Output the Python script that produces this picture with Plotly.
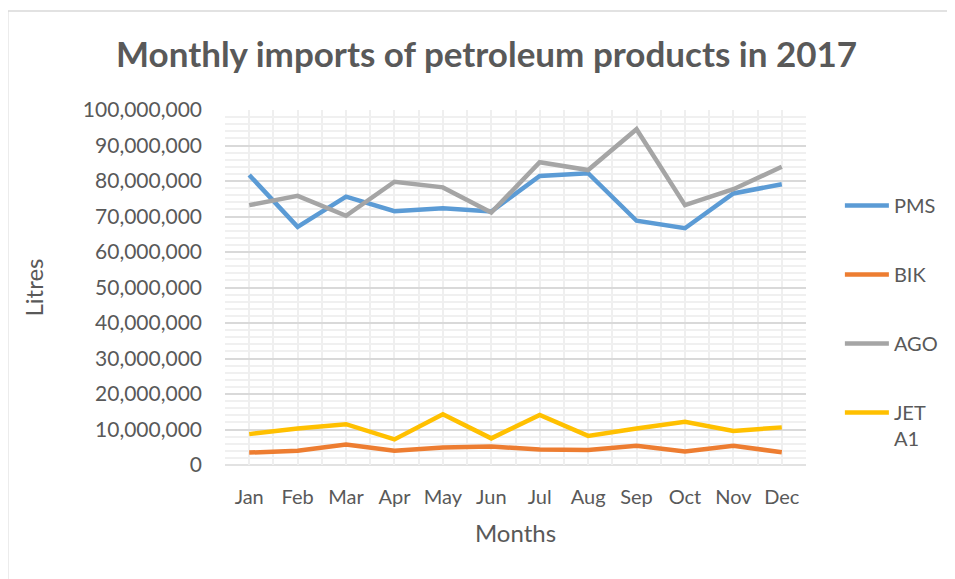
import plotly.graph_objects as go

months = ["Jan", "Feb", "Mar", "Apr", "May", "Jun", "Jul", "Aug", "Sep", "Oct", "Nov", "Dec"]
pms = [81.7e6, 67.1e6, 75.6e6, 71.5e6, 72.3e6, 71.4e6, 81.4e6, 82.2e6, 68.8e6, 66.7e6, 76.5e6, 79.1e6]
bik = [3.5e6, 4.0e6, 5.8e6, 4.0e6, 4.9e6, 5.2e6, 4.4e6, 4.2e6, 5.4e6, 3.8e6, 5.4e6, 3.6e6]
ago = [73.2e6, 75.8e6, 70.2e6, 79.8e6, 78.2e6, 71.1e6, 85.3e6, 83.1e6, 94.6e6, 73.2e6, 77.7e6, 84.0e6]
jet = [8.7e6, 10.3e6, 11.5e6, 7.2e6, 14.3e6, 7.5e6, 14.1e6, 8.2e6, 10.3e6, 12.2e6, 9.6e6, 10.6e6]

series = [
    ("PMS", pms, "#5B9BD5"),
    ("BIK", bik, "#ED7D31"),
    ("AGO", ago, "#A5A5A5"),
    ("JET<br>A1", jet, "#FFC000"),
]

xs = list(range(len(months)))
FONT = "Lato"
TXT = "#595959"

fig = go.Figure()
for i, (name, vals, col) in enumerate(series):
    fig.add_trace(go.Scatter(
        x=xs, y=vals, name=name, mode="lines",
        line=dict(color=col, width=4.5),
        legendgroup=f"g{i}",
    ))

OFF = 8  # page body margin
W, H = 947, 571
L, T = 225 - OFF, 110 - OFF
R = W - (808 - OFF)
B = H - (465 - OFF)
pw, ph = W - L - R, H - T - B

def px(x):
    return (x - OFF - L) / pw

def py(y):
    return (H - B - (y - OFF)) / ph

fig.update_layout(
    width=W, height=H,
    margin=dict(l=L, r=R, t=T, b=B),
    paper_bgcolor="white", plot_bgcolor="white",
    font=dict(family=FONT, color=TXT),
    title=dict(text="<b>Monthly imports of petroleum products in 2017</b>",
               x=px(487.5), xanchor="center", xref="paper",
               y=1 - (55 - OFF) / H, yanchor="middle",
               font=dict(size=35, color=TXT, family=FONT)),
    xaxis=dict(
        range=[-0.5, 11.5], tickmode="array", tickvals=xs, ticktext=months,
        showgrid=True, gridcolor="#efefef", gridwidth=1.5,
        minor=dict(dtick=0.5, tick0=-0.5, showgrid=True, gridcolor="#efefef", gridwidth=1.5),
        showline=False, zeroline=False, ticks="",
        ticklabelstandoff=18,
        tickfont=dict(size=20, color=TXT),
        title=dict(text="Months", font=dict(size=24, color=TXT), standoff=18),
    ),
    yaxis=dict(
        range=[0, 100e6], dtick=10e6, tickformat=",d",
        showgrid=True, gridcolor="#d9d9d9", gridwidth=1.5,
        minor=dict(dtick=2e6, showgrid=True, gridcolor="#f0f0f0", gridwidth=1.5),
        zeroline=False, showline=False, ticks="",
        ticklabelstandoff=22,
        tickfont=dict(size=21, color=TXT),
        title=dict(text="Litres", font=dict(size=24, color=TXT), standoff=32),
    ),
    legend=dict(
        x=px(842), xanchor="left", y=py(186), yanchor="top",
        font=dict(size=20, color=TXT), tracegroupgap=40,
        itemwidth=44, valign="top",
        bgcolor="rgba(0,0,0,0)",
    ),
    shapes=[
        dict(type="line", xref="paper", yref="paper", x0=0, x1=1, y0=0, y1=0,
             line=dict(color="#d9d9d9", width=1.5), layer="below"),
        dict(type="rect", xref="paper", yref="paper",
             x0=px(7), x1=px(965), y0=py(600), y1=py(11),
             line=dict(color="#d9d9d9", width=1.5), layer="below"),
    ],
)

fig.write_html("out.html")
